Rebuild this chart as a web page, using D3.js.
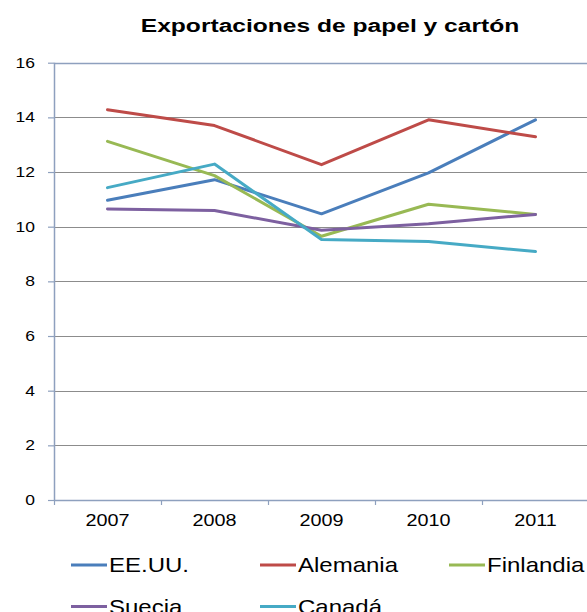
<!DOCTYPE html>
<html>
<head>
<meta charset="utf-8">
<script src="https://d3js.org/d3.v7.min.js"></script>
<style>
  html, body { margin: 0; padding: 0; background: #fff; }
  svg { display: block; }
</style>
</head>
<body>
<svg id="chart" width="587" height="612"></svg>
<script>
  // chart data
  const years = ['2007', '2008', '2009', '2010', '2011'];
  const yTicks = [0, 2, 4, 6, 8, 10, 12, 14, 16];
  const seriesNames = ['EE.UU.', 'Alemania', 'Finlandia', 'Suecia', 'Canadá'];
  const eeuu = [10.97, 11.72, 10.47, 11.97, 13.91];
  const alemania = [14.28, 13.70, 12.27, 13.91, 13.29];
  const finlandia = [13.12, 11.87, 9.65, 10.82, 10.45];
  const suecia = [10.65, 10.59, 9.87, 10.11, 10.45];
  const canada = [11.43, 12.29, 9.53, 9.46, 9.09];
  const seriesValues = [eeuu, alemania, finlandia, suecia, canada];
  const colors = ['#4A7EBB', '#BE4B48', '#98B954', '#7D60A0', '#46AAC5'];

  (function () {
    const W = 587;
    const plotL = 54, plotR = 589, plotT = 62.7, plotB = 500;
    const FONT = 'Liberation Sans, Arial, sans-serif';

    const svg = d3.select('#chart');

    const x = d3.scaleBand().domain(years).range([plotL, plotR]);
    const y = d3.scaleLinear().domain([0, 16]).range([plotB, plotT]);

    // text is a bit stretched horizontally in the reference
    function label(g, txt, tx, ty, size, sx, anchor, weight) {
      return g.append('text')
        .attr('transform', `translate(${tx},${ty}) scale(${sx},1)`)
        .attr('text-anchor', anchor)
        .attr('font-family', FONT)
        .attr('font-size', size + 'px')
        .attr('font-weight', weight || 'normal')
        .attr('fill', '#000')
        .text(txt);
    }

    // gridlines
    svg.append('g')
      .selectAll('line').data(yTicks.filter(t => t > 0 && t < 16)).join('line')
      .attr('x1', plotL).attr('x2', W)
      .attr('y1', d => Math.round(y(d)) + 0.5).attr('y2', d => Math.round(y(d)) + 0.5)
      .attr('stroke', '#8c8c8c').attr('stroke-width', 1);

    // top border of plot
    svg.append('line')
      .attr('x1', plotL).attr('x2', W)
      .attr('y1', Math.round(y(16)) + 0.5).attr('y2', Math.round(y(16)) + 0.5)
      .attr('stroke', '#8EA0BE').attr('stroke-width', 1.5);

    // y axis
    const yAxis = svg.append('g')
      .attr('transform', `translate(${plotL},0)`)
      .call(d3.axisLeft(y).tickValues(yTicks).tickSize(6).tickFormat(''));
    yAxis.select('.domain').attr('stroke', '#8EA0BE').attr('stroke-width', 1.5)
      .attr('d', `M0.5,${plotT}V${plotB}`);
    yAxis.selectAll('.tick line').attr('stroke', '#8EA0BE').attr('stroke-width', 1.2);

    const yLab = svg.append('g');
    yTicks.forEach(t => label(yLab, t, 35, y(t) + 5, 14, 1.25, 'end'));

    // x axis
    const xAxis = svg.append('g')
      .attr('transform', `translate(0,${plotB})`)
      .call(d3.axisBottom(x).tickSize(0).tickFormat(''));
    xAxis.select('.domain').attr('stroke', '#8EA0BE').attr('stroke-width', 1.5)
      .attr('d', `M${plotL},0.5H${plotR}`);
    xAxis.selectAll('.tick').remove();
    // tick marks at category boundaries
    xAxis.append('g').selectAll('line')
      .data(years.map(d => x(d)).concat([plotR])).join('line')
      .attr('x1', d => Math.round(d) + 0.5).attr('x2', d => Math.round(d) + 0.5)
      .attr('y1', 0).attr('y2', 5)
      .attr('stroke', '#8EA0BE').attr('stroke-width', 1.2);

    const xLab = svg.append('g');
    years.forEach(yr => label(xLab, yr, x(yr) + x.bandwidth() / 2, 526, 16.5, 1.2, 'middle'));

    // series lines
    const line = d3.line()
      .x((d, i) => x(years[i]) + x.bandwidth() / 2)
      .y(d => y(d));

    svg.append('g')
      .selectAll('path').data(seriesValues).join('path')
      .attr('d', d => line(d))
      .attr('fill', 'none')
      .attr('stroke', (d, i) => colors[i])
      .attr('stroke-width', 3)
      .attr('stroke-linejoin', 'round')
      .attr('stroke-linecap', 'round');

    // title
    label(svg, 'Exportaciones de papel y cartón', 330, 31.5, 18.5, 1.33, 'middle', 'bold');

    // legend
    const legendPos = [
      { x: 71, y: 565 }, { x: 260, y: 565 }, { x: 449, y: 565 },
      { x: 71, y: 606.5 }, { x: 260, y: 606.5 }
    ];
    const leg = svg.append('g');
    seriesNames.forEach((name, i) => {
      const p = legendPos[i];
      leg.append('line')
        .attr('x1', p.x).attr('x2', p.x + 36)
        .attr('y1', p.y).attr('y2', p.y)
        .attr('stroke', colors[i]).attr('stroke-width', 3);
      label(leg, name, p.x + 38, p.y + 7, 20, 1.2, 'start');
    });
  })();
</script>
</body>
</html>
